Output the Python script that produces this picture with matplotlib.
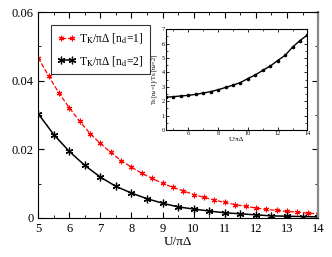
import numpy as np
import matplotlib
matplotlib.use('Agg')
import matplotlib.pyplot as plt
from matplotlib.ticker import MultipleLocator

plt.rcParams['font.family'] = ['Liberation Serif', 'DejaVu Serif']
plt.rcParams['mathtext.fontset'] = 'stix'

# T_K/piDelta, n_d = 1 (step 1/3)
u_red = [5.0, 5.333, 5.667, 6.0, 6.333, 6.667, 7.0, 7.333, 7.667, 8.0,
         8.333, 8.667, 9.0, 9.333, 9.667, 10.0, 10.333, 10.667, 11.0, 11.333,
         11.667, 12.0, 12.333, 12.667, 13.0, 13.333, 13.667, 14.0]
tk_red = [0.0467, 0.0414, 0.0364, 0.0321, 0.0282, 0.0246, 0.0217, 0.0191, 0.0167, 0.0148,
          0.0130, 0.0115, 0.0101, 0.0089, 0.0079, 0.0068, 0.0060, 0.0052, 0.0045, 0.0039,
          0.0034, 0.0029, 0.0025, 0.0022, 0.0019, 0.0017, 0.0014, 0.0012]

# T_K/piDelta, n_d = 2 (step 0.5)
u_blk = [5.0, 5.5, 6.0, 6.5, 7.0, 7.5, 8.0, 8.5, 9.0, 9.5,
         10.0, 10.5, 11.0, 11.5, 12.0, 12.5, 13.0, 13.5, 14.0]
tk_blk = [0.0304, 0.0243, 0.0194, 0.0153, 0.0119, 0.0092, 0.00725, 0.0056, 0.0043, 0.0032,
          0.0026, 0.0020, 0.0015, 0.0012, 0.0009, 0.0006, 0.0005, 0.0004, 0.0003]

# inset: ratio T_K[n_d=1]/T_K[n_d=2]
u_ins = [4.5, 5.0, 5.5, 6.0, 6.5, 7.0, 7.5, 8.0, 8.5, 9.0,
         9.5, 10.0, 10.5, 11.0, 11.5, 12.0, 12.5, 13.0, 13.5, 14.0]
ratio = [2.28, 2.32, 2.37, 2.41, 2.48, 2.57, 2.67, 2.80, 2.96, 3.12,
         3.30, 3.58, 3.83, 4.15, 4.44, 4.83, 5.19, 5.76, 6.22, 6.61]

fig = plt.figure(figsize=(3.32, 2.57), dpi=100)
ax = fig.add_axes([0.115, 0.152, 0.843, 0.801])

ax.plot(u_red, tk_red, color='red', ls='--', lw=0.9, marker=(6, 2, 0), ms=4, mew=0.8,
        label=r'T$_\mathrm{K}$/πΔ [n$_\mathrm{d}$=1]')
ax.plot(u_blk, tk_blk, color='black', ls='-', lw=1.1, marker=(6, 2, 0), ms=5.5, mew=0.9,
        label=r'T$_\mathrm{K}$/πΔ [n$_\mathrm{d}$=2]')

ax.set_xlim(5, 14)
ax.set_ylim(0, 0.06)
ax.set_xticks(range(5, 15))
ax.set_yticks([0, 0.02, 0.04, 0.06])
ax.set_yticklabels(['0', '0.02', '0.04', '0.06'])
ax.xaxis.set_minor_locator(MultipleLocator(0.5))
ax.yaxis.set_minor_locator(MultipleLocator(0.01))
ax.tick_params(which='both', direction='in', top=True, right=True, labelsize=9)
ax.tick_params(which='major', length=4, width=0.8)
ax.tick_params(which='minor', length=2, width=0.6)
ax.spines['right'].set_color('#888888')
ax.spines['right'].set_linewidth(1.6)
ax.set_xlabel('U/πΔ', fontsize=9.5, labelpad=1)

leg = ax.legend(loc='upper left', bbox_to_anchor=(0.045, 0.937), borderaxespad=0,
                fontsize=8.3, frameon=True, fancybox=False, edgecolor='black',
                handlelength=1.6, numpoints=2, borderpad=0.55, labelspacing=0.75,
                handletextpad=0.3)
leg.get_frame().set_linewidth(0.8)

ins = fig.add_axes([0.5, 0.494, 0.426, 0.392])
ins.plot(u_ins, ratio, color='black', lw=1.0, marker='o', ms=1.6)
ins.set_xlim(4.5, 14)
ins.set_ylim(0, 7)
ins.set_xticks([6, 8, 10, 12, 14])
ins.set_yticks(range(0, 8))
ins.xaxis.set_minor_locator(MultipleLocator(1))
ins.yaxis.set_minor_locator(MultipleLocator(0.5))
ins.tick_params(which='both', direction='in', top=True, right=True, labelsize=4.5, pad=1)
ins.tick_params(which='major', length=2.5, width=0.6)
ins.tick_params(which='minor', length=1.2, width=0.5)
ins.set_xlabel('U/πΔ', fontsize=5, labelpad=0.5)
ins.set_ylabel(r'T$_\mathrm{K}$[n$_\mathrm{d}$=1]/T$_\mathrm{K}$[n$_\mathrm{d}$=2]', fontsize=4.5, labelpad=1.5)

fig.savefig('out.png', dpi=100)
